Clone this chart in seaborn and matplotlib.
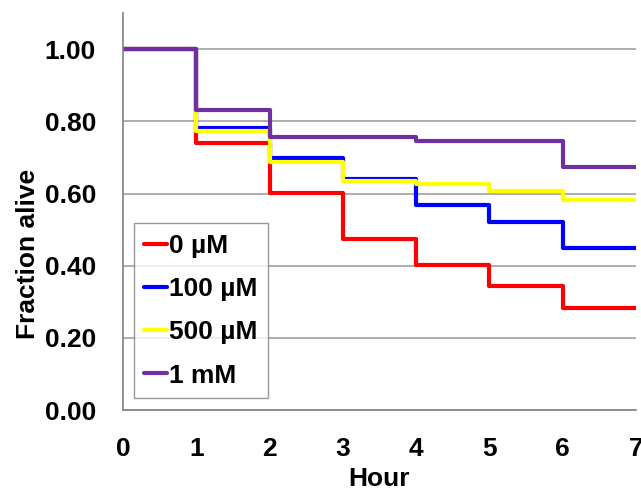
import pandas as pd
import numpy as np
import matplotlib.pyplot as plt
import seaborn as sns

hours = [0, 1, 2, 3, 4, 5, 6, 7]
groups = ['0 µM', '100 µM', '500 µM', '1 mM']
frac_0uM = [1.00, 0.740, 0.602, 0.473, 0.403, 0.344, 0.282, 0.282]
frac_100uM = [1.00, 0.782, 0.699, 0.640, 0.569, 0.522, 0.450, 0.450]
frac_500uM = [1.00, 0.773, 0.688, 0.634, 0.627, 0.608, 0.583, 0.583]
frac_1mM = [1.00, 0.831, 0.757, 0.757, 0.746, 0.746, 0.674, 0.674]
colors = ['#ff0000', '#0000ff', '#ffff00', '#7030a0']

df = pd.DataFrame({
    'Hour': hours * 4,
    'Fraction alive': frac_0uM + frac_100uM + frac_500uM + frac_1mM,
    'group': sum([[g] * len(hours) for g in groups], []),
})

sns.set_style('white')
plt.rcParams['font.family'] = ['Liberation Sans', 'DejaVu Sans']
plt.rcParams['font.weight'] = 'bold'
plt.rcParams['text.color'] = 'black'
plt.rcParams['axes.labelcolor'] = 'black'
plt.rcParams['xtick.color'] = 'black'
plt.rcParams['ytick.color'] = 'black'

fs = 19

fig = plt.figure(figsize=(6.41, 4.90), dpi=100)
ax = fig.add_axes([0.192, 0.163, 0.800, 0.810])

for g, c in zip(groups, colors):
    sns.lineplot(data=df[df['group'] == g], x='Hour', y='Fraction alive',
                 drawstyle='steps-post', color=c, linewidth=3.0, label=g, ax=ax)

ax.set_xlim(0, 7)
ax.set_ylim(0, 1.1)
ax.set_xticks(range(0, 8))
ax.set_yticks(np.arange(0, 1.01, 0.2))
ax.set_yticklabels([f'{v:.2f}' for v in np.arange(0, 1.01, 0.2)])
ax.yaxis.grid(True, color='#a0a0a0', linewidth=1.2)
ax.set_axisbelow(True)

for s in ['top', 'right']:
    ax.spines[s].set_visible(False)
for s in ['left', 'bottom']:
    ax.spines[s].set_color('#808080')
    ax.spines[s].set_linewidth(1.2)

ax.tick_params(axis='both', which='major', direction='out', length=7, width=1.2,
               color='#808080', labelcolor='black', labelsize=fs)
ax.tick_params(axis='y', pad=12.5)
ax.tick_params(axis='x', pad=12.5)
ax.set_xlabel('Hour', fontsize=fs, fontweight='bold', labelpad=4)
ax.set_ylabel('Fraction alive', fontsize=fs, fontweight='bold')
ax.yaxis.set_label_coords(-0.162, 0.393)

leg = ax.legend(loc='lower left', bbox_to_anchor=(0.021, 0.03), fontsize=fs,
                frameon=True, fancybox=False, handlelength=0.85, handletextpad=0.1,
                borderpad=0.4, labelspacing=0.73, borderaxespad=0, edgecolor='#808080')
leg.get_frame().set_linewidth(1.0)

fig.savefig('out.png', dpi=100)
